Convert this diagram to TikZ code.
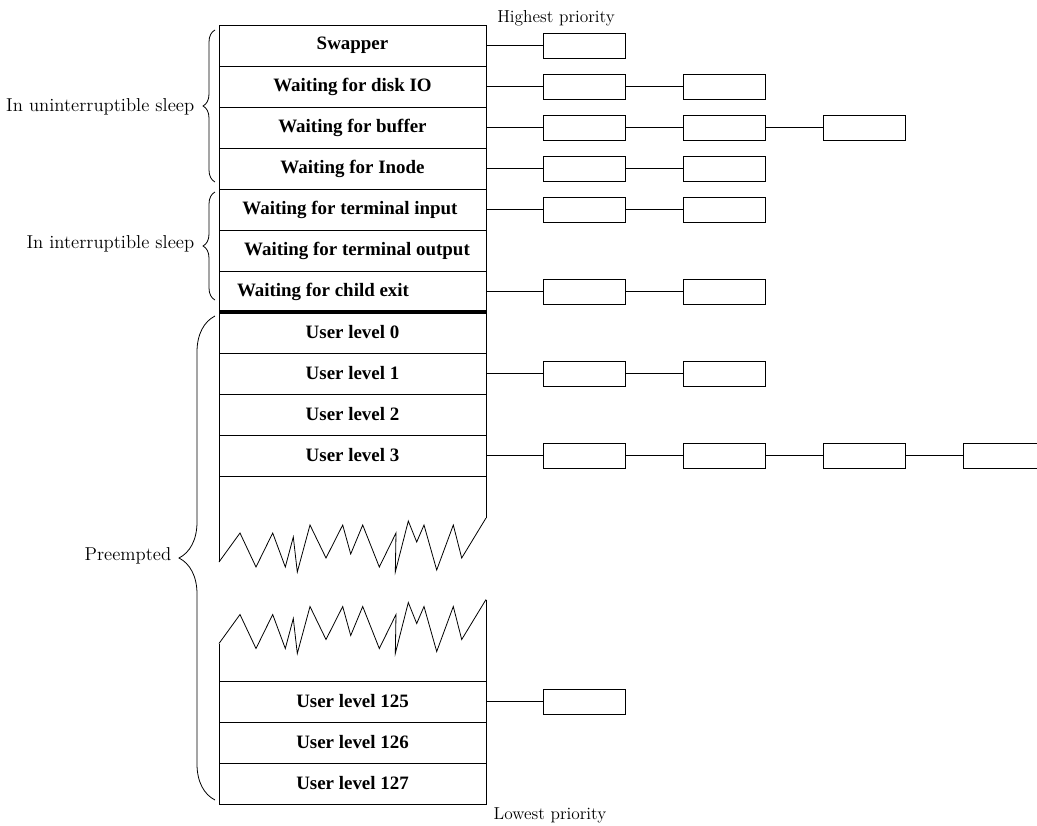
\documentclass[tikz,border=0pt]{standalone}
\usepackage{fontspec}
\newfontfamily\rowfont{Liberation Serif}
\usetikzlibrary{decorations.pathreplacing}

% torn edge of the table (pixel units)
\newcommand{\tearline}{(219,562) -- (240,533) -- (256,567) -- (272.7,533) -- (285.3,567)
  -- (293.3,537) -- (297.3,572) -- (310,525) -- (326,558) -- (342.7,525) -- (350.7,554)
  -- (362.7,525) -- (379.3,567) -- (396,533) -- (395.3,572) -- (408.3,521) -- (416.7,542)
  -- (424,525) -- (436.7,570) -- (453.3,525) -- (461.7,558) -- (486,518)}

\tikzset{
  rowtext/.style={font=\rowfont\bfseries\fontsize{14.2}{16}\selectfont},
  sidetext/.style={font=\fontsize{14}{16}\selectfont, anchor=east},
  prio/.style={font=\fontsize{13}{16}\selectfont},
  procbox/.style={draw, fill=white, minimum width=61.5pt, minimum height=18.75pt, inner sep=0pt},
  grp/.style={decorate, decoration={brace, amplitude=#1}},
}

\begin{document}
\begin{tikzpicture}[x=0.75pt, y=-0.75pt, line width=0.6pt]
  \useasboundingbox (0,0) rectangle (1037,825);

  % Upper part of the table
  \draw (219,562) -- (219,25) -- (486,25) -- (486,518);
  \draw \tearline;
  \foreach \y in {66,107,148,189,230,271,353,394,435,476}
    \draw (219,\y) -- (486,\y);
  \draw[line width=3pt] (219,312) -- (486,312);

  % Lower part of the table
  \draw[shift={(0,81.5)}] \tearline;
  \draw (219,643.5) -- (219,804) -- (486,804) -- (486,599.5);
  \foreach \y in {681,722,763}
    \draw (219,\y) -- (486,\y);

  % Queue names
  \node[rowtext] (swapper) at (352.5,45.5) {Swapper};
  \node[rowtext] (diskio)  at (352.5,86.5) {Waiting for disk IO};
  \node[rowtext] (buffer)  at (352.5,127.5) {Waiting for buffer};
  \node[rowtext] (inode)   at (352.5,168.5) {Waiting for Inode};
  \node[rowtext] (ttyin)   at (350,209.5) {Waiting for terminal input};
  \node[rowtext] (ttyout)  at (357,250.5) {Waiting for terminal output};
  \node[rowtext] (child)   at (323,291.5) {Waiting for child exit};
  \node[rowtext] (ul0)     at (352.5,332.5) {User level 0};
  \node[rowtext] (ul1)     at (352.5,373.5) {User level 1};
  \node[rowtext] (ul2)     at (352.5,414.5) {User level 2};
  \node[rowtext] (ul3)     at (352.5,455.5) {User level 3};
  \node[rowtext] (ul125)   at (352.5,701.5) {User level 125};
  \node[rowtext] (ul126)   at (352.5,742.5) {User level 126};
  \node[rowtext] (ul127)   at (352.5,783.5) {User level 127};

  % Priority labels
  \node[prio] (high) at (556,18) {Highest priority};
  \node[prio] (low)  at (550,815) {Lowest priority};

  % Groups
  \draw[grp=9pt]  (215,182) -- (215,30);
  \node[sidetext] (unint) at (199,107) {In uninterruptible sleep};
  \draw[grp=9pt]  (215,300) -- (215,192);
  \node[sidetext] (inter) at (199,244) {In interruptible sleep};
  \draw[grp=27pt] (215,800) -- (215,316);
  \node[sidetext] (preempt) at (176,556) {Preempted};

  % Waiting processes
  \foreach \y/\n [count=\i] in {45.5/1,86.5/2,127.5/3,168.5/2,209.5/2,291.5/2,373.5/2,455.5/4,701.5/1}{
    \coordinate (e\i) at (486,\y);
    \foreach \k in {1,...,\n}{
      \node[procbox] (q\i-\k) at ({584+140*(\k-1)},\y) {};
      \pgfmathtruncatemacro\p{\k-1}
      \ifnum\k=1
        \draw (e\i) -- (q\i-1.west);
      \else
        \draw (q\i-\p.east) -- (q\i-\k.west);
      \fi
    }
  }
\end{tikzpicture}
\end{document}
